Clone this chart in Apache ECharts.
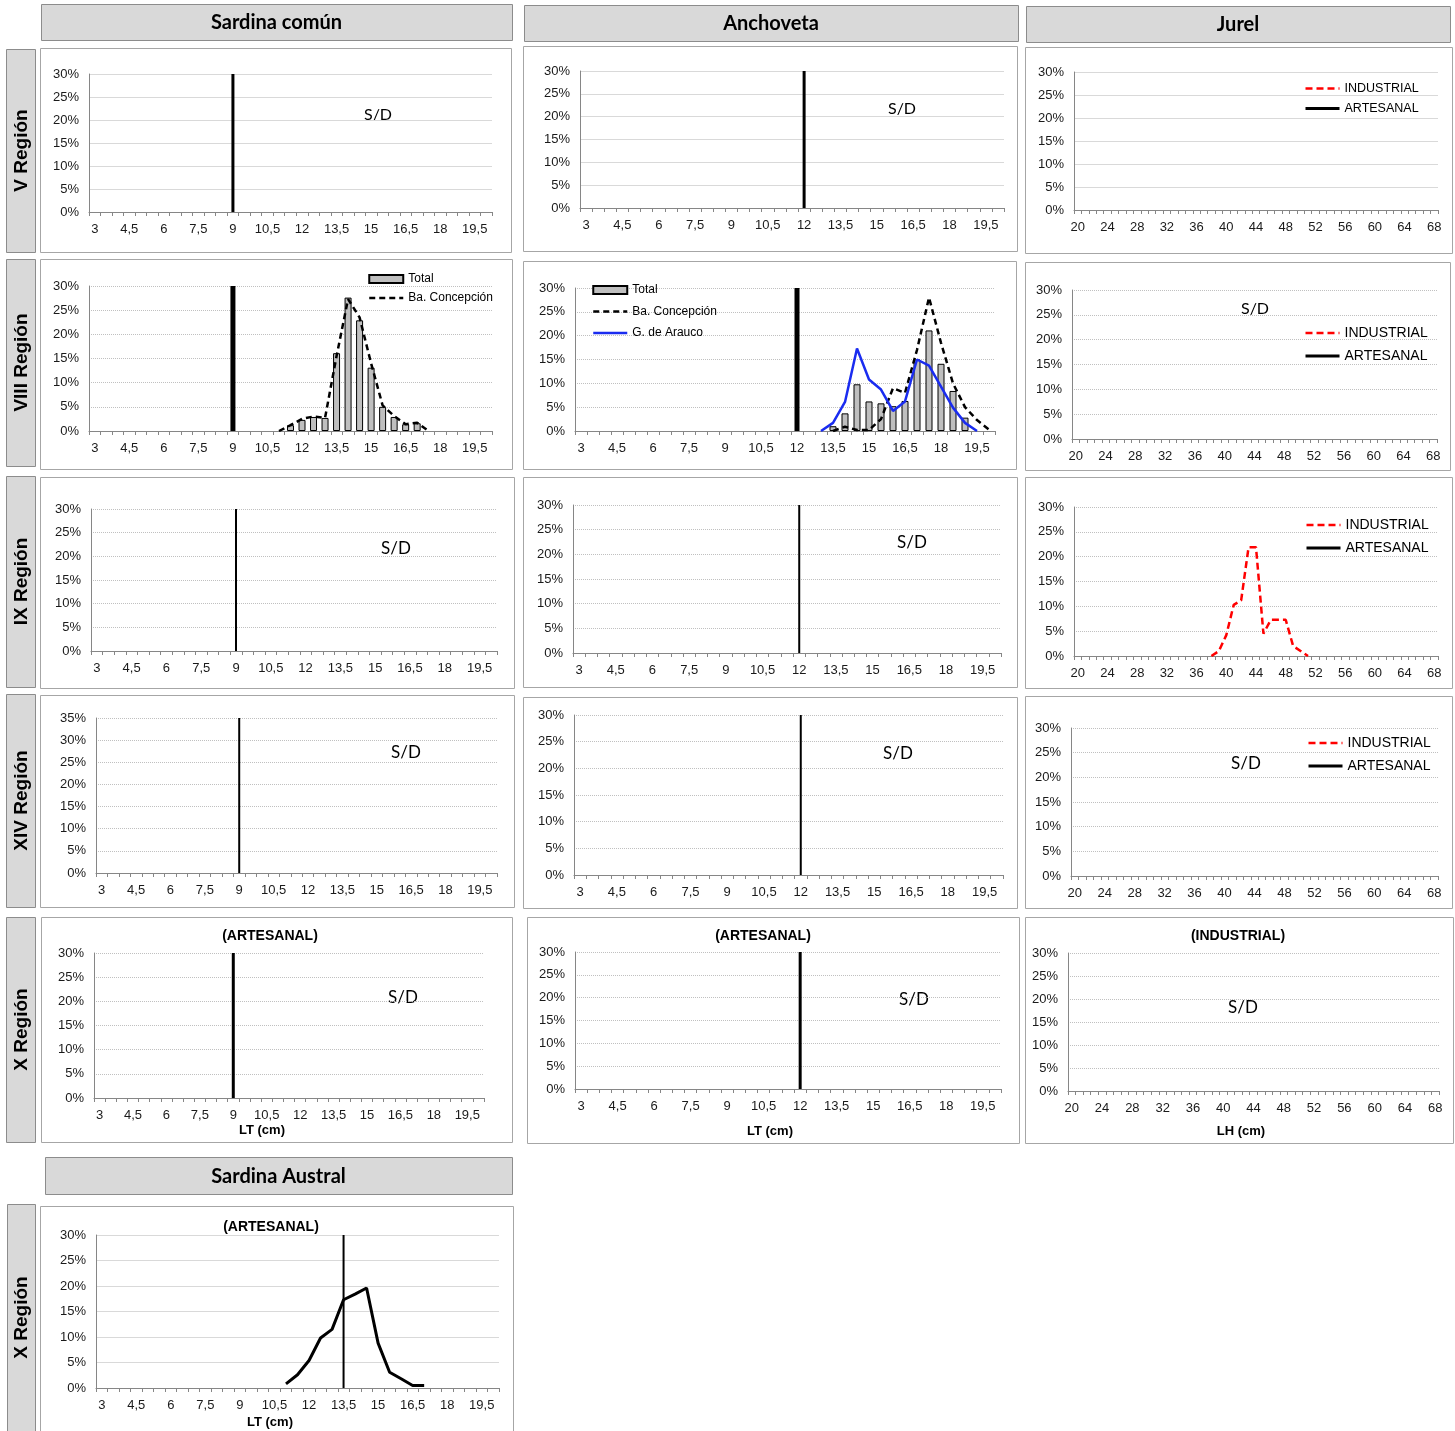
<!DOCTYPE html>
<html><head><meta charset="utf-8">
<script src="https://cdn.jsdelivr.net/npm/echarts@6/dist/echarts.min.js"></script>
<style>html,body{margin:0;padding:0;background:#fff}#c{width:1455px;height:1431px}</style>
</head><body><div id="c"></div>
<script>
// ---------- categories (tick labels) ----------
const sardinaCats = ['3','3,5','4','4,5','5','5,5','6','6,5','7','7,5','8','8,5','9','9,5','10','10,5','11','11,5','12','12,5','13','13,5','14','14,5','15','15,5','16','16,5','17','17,5','18','18,5','19','19,5','20'];
const jurelCats = ['20','21','22','23','24','25','26','27','28','29','30','31','32','33','34','35','36','37','38','39','40','41','42','43','44','45','46','47','48','49','50','51','52','53','54','55','56','57','58','59','60','61','62','63','64','65','66','67','68'];

// ---------- reference lengths (vertical lines) ----------
const sardinaRefLT = '9';
const anchovetaRefLT = '12';
const australRefLT = '13,5';

// ---------- data (%) ----------
const sardinaVIII_totalLT = ['11,5','12','12,5','13','13,5','14','14,5','15','15,5','16','16,5','17'];
const sardinaVIII_total   = [1.2, 2.3, 2.9, 2.7, 16.1, 27.6, 22.9, 13.1, 5.0, 2.9, 1.4, 1.6];
const sardinaVIII_bahiaLT = ['11','11,5','12','12,5','13','13,5','14','14,5','15','15,5','16','16,5','17','17,5'];
const sardinaVIII_bahia   = [0, 1.2, 2.5, 3.0, 2.7, 15.5, 27.3, 23.5, 14.0, 5.3, 3.1, 1.4, 1.7, 0];

const anchovetaVIII_totalLT = ['13,5','14','14,5','15','15,5','16','16,5','17','17,5','18','18,5','19'];
const anchovetaVIII_total   = [1.0, 3.7, 9.8, 6.2, 5.8, 5.2, 6.3, 15.0, 21.1, 14.1, 8.4, 2.8];
const anchovetaVIII_bahiaLT = ['13,5','14','14,5','15','15,5','16','16,5','17','17,5','18','18,5','19','19,5','20'];
const anchovetaVIII_bahia   = [0, 0.9, 0.2, 0.2, 2.5, 9.0, 8.0, 17.0, 28.0, 18.5, 10.0, 5.0, 2.3, 0.3];
const anchovetaVIII_araucoLT = ['13','13,5','14','14,5','15','15,5','16','16,5','17','17,5','18','18,5','19','19,5'];
const anchovetaVIII_arauco   = [0, 1.7, 6.1, 17.3, 10.8, 8.7, 4.2, 6.2, 15.0, 13.7, 9.3, 4.9, 1.7, 0];

const jurelIX_industrialLH = ['38','39','40','41','42','43','44','45','46','47','48','49','50','51'];
const jurelIX_industrial   = [0, 1.0, 4.2, 10.3, 11.2, 21.9, 21.9, 4.5, 7.3, 7.3, 7.3, 2.0, 1.0, 0];

const australX_LT        = ['11','11,5','12','12,5','13','13,5','14','14,5','15','15,5','16','16,5','17'];
const australX_artesanal = [0.8, 2.6, 5.4, 9.8, 11.5, 17.3, 18.4, 19.6, 8.8, 3.1, 1.8, 0.5, 0.5];

// ---------- build ----------
const AX = 'Liberation Sans, Arial, sans-serif';
const CAL = 'Lato, Carlito, sans-serif';
function pairs(xs, ys){ return xs.map((x,i)=>[x, ys[i]]); }

const grids=[], xAxes=[], yAxes=[], series=[], legends=[], graphics=[];

function text(x,y,t,font,opts){
  const o = Object.assign({type:'text', x:x, y:y, silent:true,
    style:{text:t, font:font, fill:'#000', align:'center', verticalAlign:'middle', textAlign:'center', textVerticalAlign:'middle'}}, opts||{});
  graphics.push(o);
}
function rect(x,y,w,h,fill,stroke){
  graphics.push({type:'rect', silent:true, shape:{x:x+0.5,y:y+0.5,width:w,height:h}, style:{fill:fill, stroke:stroke, lineWidth:1}, z:-10});
}
function lineItem(name, w){ return {name:name, itemStyle:{opacity:0}, lineStyle:{width:w||2.5}}; }

function addPanel(p){
  const i = grids.length;
  rect(p.box[0],p.box[1],p.box[2],p.box[3],'none','#a6a6a6');
  grids.push({left:p.g[0], top:p.g[1], width:p.g[2]-p.g[0], height:p.g[3]-p.g[1]});
  xAxes.push({type:'category', gridIndex:i, data:p.cats, boundaryGap:true,
    axisLine:{lineStyle:{color:'#868686', width:1}},
    axisTick:{show:true, interval:0, length:4, lineStyle:{color:'#868686'}},
    axisLabel:{interval:p.labInt, margin:11, fontFamily:AX, fontSize:13, color:'#1a1a1a'},
    splitLine:{show:false}});
  yAxes.push({type:'value', gridIndex:i, min:0, max:p.ymax||30, interval:5,
    axisLine:{show:true, lineStyle:{color:'#868686'}}, axisTick:{show:false},
    axisLabel:{formatter:'{value}%', margin:10, fontFamily:AX, fontSize:13, color:'#1a1a1a'},
    splitLine:{show:true, lineStyle:{color:p.dotted?'#c0c0c0':'#d9d9d9', type:p.dotted?'dotted':'solid', width:1}}});
  (p.series||[]).forEach(s=>{ series.push(Object.assign({xAxisIndex:i, yAxisIndex:i}, s)); });
  if(p.ref){
    series.push({type:'line', name:'ref'+i, xAxisIndex:i, yAxisIndex:i, data:[[p.ref,0],[p.ref,p.ymax||30]],
      symbol:'none', silent:true, lineStyle:{color:'#000', width:p.refW}, z:3});
  }
  if(p.sd) text(p.sd[0],p.sd[1],'S/D',(p.sd[2]||17)+'px '+CAL);
  if(p.title) text(p.title[0],p.title[1],p.title[2],'bold 14px '+AX);
  if(p.xname) text(p.xname[0],p.xname[1],p.xname[2],'bold 13px '+AX);
  if(p.legend) legends.push(Object.assign({orient:'vertical', padding:0, itemWidth:34, itemHeight:8, selectedMode:false,
    textStyle:{fontFamily:AX, fontSize:12, color:'#000'}}, p.legend));
}

const barStyle = {color:'#bfbfbf', borderColor:'#000', borderWidth:1};
const bahiaLine = {color:'#000', width:2.5, type:[6,4]};
const indLine = {color:'#ff0000', width:2.5, type:[7,4]};
const artLine = {color:'#000', width:3};
function jurelSeries(indData){
  return [
    {type:'line', name:'INDUSTRIAL', data:indData||[], symbol:'none', showSymbol:false, lineStyle:indLine, itemStyle:{color:'#ff0000'}},
    {type:'line', name:'ARTESANAL', data:[], symbol:'none', showSymbol:false, lineStyle:artLine, itemStyle:{color:'#000'}}
  ];
}
const jurelLegendData = [lineItem('INDUSTRIAL', 2.5), lineItem('ARTESANAL', 3)];

// ----- Sardina común column -----
addPanel({box:[40,48,471,204], g:[89,74,492,212], cats:sardinaCats, labInt:2, ref:sardinaRefLT, refW:3, sd:[378,115,16]});
addPanel({box:[40,259,472,210], g:[89,286,492,431], cats:sardinaCats, labInt:2, ref:sardinaRefLT, refW:5, dotted:true,
  series:[
    {type:'bar', name:'Total', data:pairs(sardinaVIII_totalLT, sardinaVIII_total), barWidth:7, itemStyle:barStyle},
    {type:'line', name:'Ba. Concepción', data:pairs(sardinaVIII_bahiaLT, sardinaVIII_bahia), symbol:'none', showSymbol:false, lineStyle:bahiaLine, itemStyle:{color:'#000'}, z:4}
  ],
  legend:{left:368, top:273, itemGap:7, data:[{name:'Total', icon:'rect'}, lineItem('Ba. Concepción', 2.5)]}});
addPanel({box:[40,477,474,211], g:[91,509,497,651], cats:sardinaCats, labInt:2, ref:sardinaRefLT, refW:2, dotted:true, sd:[396,549,17]});
addPanel({box:[40,695,474,212], g:[96,718,497,873], cats:sardinaCats, labInt:2, ref:sardinaRefLT, refW:2, dotted:true, ymax:35, sd:[406,753,17]});
addPanel({box:[41,917,471,225], g:[94,953,484,1098], cats:sardinaCats, labInt:2, ref:sardinaRefLT, refW:3, dotted:true, sd:[403,998,17],
  title:[270,936,'(ARTESANAL)'], xname:[262,1130,'LT (cm)']});
addPanel({box:[40,1206,473,226], g:[96,1235,499,1388], cats:sardinaCats, labInt:2, ref:australRefLT, refW:2,
  series:[{type:'line', name:'ARTESANAL X', data:pairs(australX_LT, australX_artesanal), symbol:'none', lineStyle:{color:'#000', width:3}, z:4}],
  title:[271,1227,'(ARTESANAL)'], xname:[270,1422,'LT (cm)']});

// ----- Anchoveta column -----
addPanel({box:[523,46,494,205], g:[580,71,1004,208], cats:sardinaCats, labInt:2, ref:anchovetaRefLT, refW:3, sd:[902,109,16]});
addPanel({box:[523,261,493,208], g:[575,288,995,431], cats:sardinaCats, labInt:2, ref:anchovetaRefLT, refW:5, dotted:true,
  series:[
    {type:'bar', name:'Total', data:pairs(anchovetaVIII_totalLT, anchovetaVIII_total), barWidth:7, itemStyle:barStyle},
    {type:'line', name:'Ba. Concepción', data:pairs(anchovetaVIII_bahiaLT, anchovetaVIII_bahia), symbol:'none', showSymbol:false, lineStyle:bahiaLine, itemStyle:{color:'#000'}, z:4},
    {type:'line', name:'G. de Arauco', data:pairs(anchovetaVIII_araucoLT, anchovetaVIII_arauco), symbol:'none', showSymbol:false, lineStyle:{color:'#1a2cf0', width:2.5}, itemStyle:{color:'#1a2cf0'}, z:5}
  ],
  legend:{left:592, top:284, itemGap:9.5, data:[{name:'Total', icon:'rect'}, lineItem('Ba. Concepción', 2.5), lineItem('G. de Arauco', 2.5)]}});
addPanel({box:[523,477,494,210], g:[573,505,1001,653], cats:sardinaCats, labInt:2, ref:anchovetaRefLT, refW:2, dotted:true, sd:[912,543,17]});
addPanel({box:[523,697,494,211], g:[574,715,1003,875], cats:sardinaCats, labInt:2, ref:anchovetaRefLT, refW:2, dotted:true, sd:[898,754,17]});
addPanel({box:[527,917,492,226], g:[575,952,1001,1089], cats:sardinaCats, labInt:2, ref:anchovetaRefLT, refW:3, dotted:true, sd:[914,1000,17],
  title:[763,936,'(ARTESANAL)'], xname:[770,1131,'LT (cm)']});

// ----- Jurel column -----
addPanel({box:[1025,47,427,206], g:[1074,72,1438,210], cats:jurelCats, labInt:3, series:jurelSeries(),
  legend:{left:1304, top:82, itemGap:7, textStyle:{fontFamily:AX, fontSize:12.5, color:'#000'}, data:jurelLegendData}});
addPanel({box:[1025,262,425,208], g:[1072,290,1437,439], cats:jurelCats, labInt:3, dotted:true, series:jurelSeries(), sd:[1255,309,16],
  legend:{left:1304, top:326, itemGap:9, textStyle:{fontFamily:AX, fontSize:14, color:'#000'}, data:jurelLegendData}});
addPanel({box:[1025,477,427,211], g:[1074,507,1438,656], cats:jurelCats, labInt:3, dotted:true,
  series:jurelSeries(pairs(jurelIX_industrialLH, jurelIX_industrial)),
  legend:{left:1305, top:518, itemGap:9, textStyle:{fontFamily:AX, fontSize:14, color:'#000'}, data:jurelLegendData}});
addPanel({box:[1025,696,427,212], g:[1071,728,1438,876], cats:jurelCats, labInt:3, dotted:true, series:jurelSeries(), sd:[1246,764,17],
  legend:{left:1307, top:736, itemGap:9, textStyle:{fontFamily:AX, fontSize:14, color:'#000'}, data:jurelLegendData}});
addPanel({box:[1025,917,428,226], g:[1068,953,1439,1091], cats:jurelCats, labInt:3, dotted:true, sd:[1243,1008,17],
  title:[1238,936,'(INDUSTRIAL)'], xname:[1241,1131,'LH (cm)']});

// ----- headers -----
function header(x,y,w,h,t){ rect(x,y,w,h,'#d9d9d9','#8c8c8c'); text(x+w/2, y+h/2+1, t, 'bold 20px '+CAL); }
header(41,4,471,36,'Sardina común');
header(524,5,494,36,'Anchoveta');
header(1026,6,424,36,'Jurel');
header(45,1157,467,37,'Sardina Austral');

// ----- row labels -----
function rowLabel(y,h,t,x,w){ x=x||6; w=w||29; rect(x,y,w,h,'#d9d9d9','#8c8c8c'); text(x+w/2+1, y+h/2, t, 'bold 19px '+AX, {rotation:Math.PI/2}); }
rowLabel(49,203,'V Región');
rowLabel(259,207,'VIII Región');
rowLabel(476,211,'IX Región');
rowLabel(694,213,'XIV Región');
rowLabel(917,225,'X Región');
rowLabel(1204,227,'X Región',7,28);

const chart = echarts.init(document.getElementById('c'), null, {renderer:'canvas'});
chart.setOption({
  animation:false,
  backgroundColor:'#fff',
  grid:grids, xAxis:xAxes, yAxis:yAxes, series:series, legend:legends,
  graphic:{elements:graphics}
});
</script></body></html>
